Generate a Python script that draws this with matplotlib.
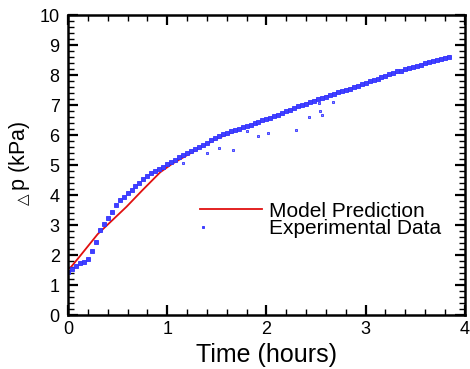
import numpy as np
import matplotlib.pyplot as plt
from matplotlib.ticker import MultipleLocator
from matplotlib.legend_handler import HandlerLine2D

plt.rcParams['font.family'] = ['Liberation Sans', 'DejaVu Sans']

# model prediction
model_t = [0.02, 0.10, 0.20, 0.30, 0.45, 0.59, 0.75, 0.93, 1.05, 1.16, 1.30, 1.50, 1.75,
           2.00, 2.50, 3.00, 3.50, 3.85]
model_p = [1.56, 1.88, 2.29, 2.70, 3.17, 3.61, 4.16, 4.76, 5.04, 5.25, 5.52, 5.88, 6.22,
           6.51, 7.17, 7.72, 8.28, 8.62]

# experimental data (main band)
exp_t = [0.00, 0.04, 0.08, 0.12, 0.16, 0.20, 0.24, 0.28, 0.32, 0.36, 0.40, 0.44, 0.48, 0.52,
         0.56, 0.60, 0.64, 0.68, 0.72, 0.76, 0.80, 0.84, 0.88, 0.92, 0.96, 1.00, 1.04, 1.08,
         1.12, 1.16, 1.20, 1.24, 1.28, 1.32, 1.36, 1.40, 1.44, 1.48, 1.52, 1.56, 1.60, 1.64,
         1.68, 1.72, 1.76, 1.80, 1.84, 1.88, 1.92, 1.96, 2.00, 2.04, 2.08, 2.12, 2.16, 2.20,
         2.24, 2.28, 2.32, 2.36, 2.40, 2.44, 2.48, 2.52, 2.56, 2.60, 2.64, 2.68, 2.72, 2.76,
         2.80, 2.84, 2.88, 2.92, 2.96, 3.00, 3.04, 3.08, 3.12, 3.16, 3.20, 3.24, 3.28, 3.32,
         3.36, 3.40, 3.44, 3.48, 3.52, 3.56, 3.60, 3.64, 3.68, 3.72, 3.76, 3.80, 3.84]
exp_p = [1.45, 1.55, 1.65, 1.72, 1.76, 1.88, 2.12, 2.45, 2.83, 3.05, 3.25, 3.45, 3.66, 3.83,
         3.95, 4.06, 4.18, 4.30, 4.41, 4.53, 4.64, 4.73, 4.81, 4.88, 4.95, 5.02, 5.10, 5.18,
         5.26, 5.32, 5.40, 5.46, 5.53, 5.60, 5.68, 5.74, 5.82, 5.90, 5.96, 6.02, 6.08, 6.12,
         6.17, 6.21, 6.26, 6.30, 6.35, 6.40, 6.44, 6.49, 6.53, 6.58, 6.63, 6.67, 6.73, 6.79,
         6.84, 6.91, 6.96, 7.00, 7.05, 7.10, 7.14, 7.19, 7.23, 7.28, 7.33, 7.37, 7.42, 7.46,
         7.51, 7.55, 7.60, 7.64, 7.69, 7.74, 7.79, 7.84, 7.88, 7.93, 7.97, 8.02, 8.07, 8.12,
         8.15, 8.19, 8.23, 8.28, 8.31, 8.35, 8.39, 8.43, 8.47, 8.50, 8.54, 8.57, 8.61]

# scattered low readings
out_t = [1.16, 1.40, 1.52, 1.66, 1.80, 1.92, 2.02, 2.30, 2.43, 2.53, 2.54, 2.56, 2.67]
out_p = [5.06, 5.39, 5.56, 5.50, 6.14, 5.98, 6.06, 6.17, 6.59, 7.06, 6.80, 6.67, 7.09]


class LeftMarker(HandlerLine2D):
    # put the single legend marker at the left end of the handle
    def get_xdata(self, legend, xdescent, ydescent, width, height, fontsize):
        x0 = -xdescent + 0.05 * width
        return [x0, x0], [x0]


fig = plt.figure(figsize=(4.70, 3.69), dpi=100)
ax = fig.add_axes([0.1447, 0.1463, 0.8443, 0.8130])

ax.plot(model_t, model_p, color='#e01010', lw=1.3, label='Model Prediction')
exp_line, = ax.plot(exp_t, exp_p, ls='none', marker='s', ms=2.4, mfc='#4040ff', mec='#3030ff',
                    mew=0.6, label='Experimental Data')
ax.plot(out_t, out_p, ls='none', marker='s', ms=2.0, mfc='#9090ff', mec='#3030ff', mew=0.6)

ax.set_xlim(0, 4)
ax.set_ylim(0, 10)
ax.xaxis.set_major_locator(MultipleLocator(1))
ax.xaxis.set_minor_locator(MultipleLocator(0.2))
ax.yaxis.set_major_locator(MultipleLocator(1))
ax.yaxis.set_minor_locator(MultipleLocator(0.2))
ax.tick_params(which='both', direction='in', top=True, right=True, labelsize=13)
ax.tick_params(which='major', length=7, width=1.6)
ax.tick_params(which='minor', length=4, width=1.0)
ax.tick_params(axis='x', pad=4)
ax.tick_params(axis='y', pad=6)
for s in ax.spines.values():
    s.set_linewidth(1.8)

ax.set_xlabel('Time (hours)', fontsize=18, labelpad=4)
ax.set_ylabel(r'$_{\triangle}$p (kPa)', fontsize=15.5, labelpad=5)

ax.legend(loc='center left', bbox_to_anchor=(0.285, 0.317), frameon=False, fontsize=15,
          handlelength=3.0, handletextpad=0.33, labelspacing=-0.08, markerscale=0.8,
          handler_map={exp_line: LeftMarker(numpoints=1)})

fig.savefig('out.png', dpi=100)
